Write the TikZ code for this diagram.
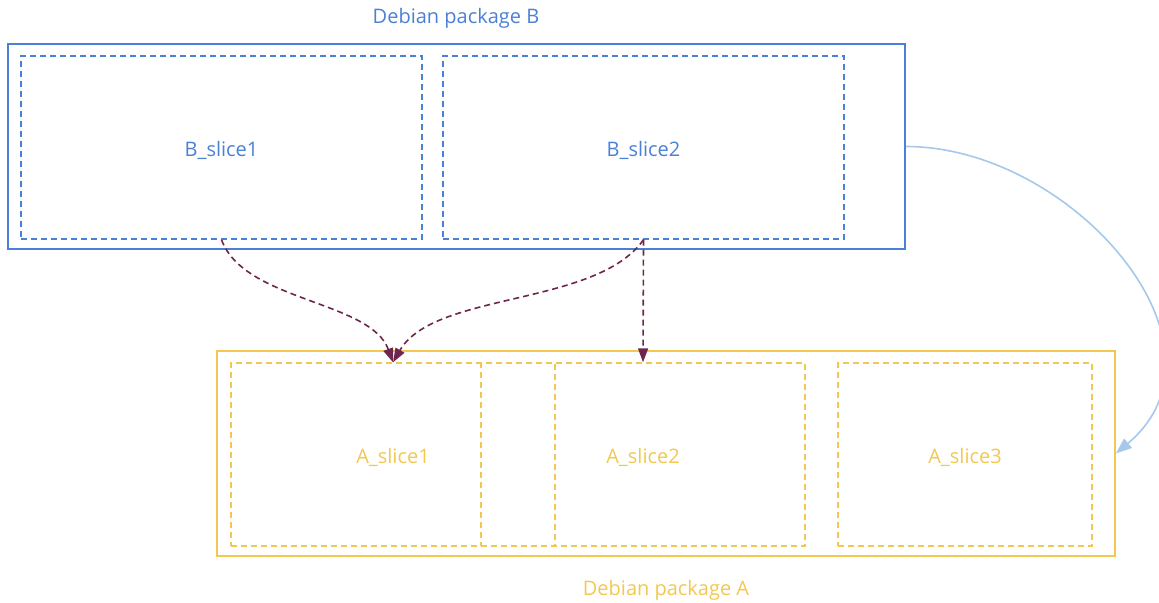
\documentclass[tikz,border=0pt]{standalone}
\usepackage{fontspec}
\setmainfont{Open Sans}
\usetikzlibrary{arrows.meta}

\definecolor{pkgblue}{RGB}{74,128,214}
\definecolor{pkgyellow}{RGB}{242,200,80}
\definecolor{deppurple}{RGB}{110,38,78}
\definecolor{lightblue}{RGB}{165,200,235}

\begin{document}
\begin{tikzpicture}[
    x=0.5pt, y=0.5pt,
    font=\fontsize{10}{12}\selectfont,
    % Style for the package boxes
    pkg/.style={
        draw, line width=0.8pt, inner sep=0pt,
        minimum height=102.5pt
    },
    % Style for the slices inside a package
    slice/.style={
        draw, dash pattern=on 3pt off 2pt, line width=0.7pt,
        inner sep=0pt, minimum height=91.5pt
    },
    % Style for the dependency arrows
    dep/.style={
        deppurple, line width=0.8pt, dash pattern=on 3pt off 2pt,
        -{Triangle[length=7pt, width=5pt]}
    }
]

% --- Fix the page size ---
\useasboundingbox (0,0) rectangle (1159,602);

% --- Package B ---
\node[pkg, pkgblue, minimum width=448.5pt] (pkgB) at (456.5,455.5) {};
\node[text=pkgblue] (titleB) at (456,584) {Debian package B};
\node[slice, pkgblue, minimum width=200.5pt,
      label={[text=pkgblue, yshift=-1.5pt]center:B\_slice1}] (bslice1) at (221.5,454.5) {};
\node[slice, pkgblue, minimum width=200.5pt,
      label={[text=pkgblue, yshift=-1.5pt]center:B\_slice2}] (bslice2) at (643.5,454.5) {};

% --- Package A ---
\node[pkg, pkgyellow, minimum width=449pt] (pkgA) at (666,148.5) {};
\node[text=pkgyellow] (titleA) at (666,12) {Debian package A};
\node[slice, pkgyellow, minimum width=162pt,
      label={[text=pkgyellow, yshift=-1.5pt]center:A\_slice1}] (aslice1) at (393,147.5) {};
\node[slice, pkgyellow, minimum width=162pt,
      label={[text=pkgyellow, yshift=-1.5pt]center:A\_slice2}] (aslice2) at (643,147.5) {};
\node[slice, pkgyellow, minimum width=127pt,
      label={[text=pkgyellow, yshift=-1.5pt]center:A\_slice3}] (aslice3) at (965,147.5) {};

% --- Dependencies between slices ---
\draw[dep] (bslice1.south) to[out=-70, in=110, looseness=0.8] (aslice1.north);
\draw[dep] (bslice2.south) to[out=-125, in=60, looseness=0.75] (aslice1.north);
\draw[dep] (bslice2.south) -- (aslice2.north);

% --- Package dependency ---
\draw[lightblue, line width=0.8pt, -{Triangle[length=8pt, width=6pt]}]
    (pkgB.east) to[out=0, in=40, looseness=1.15] (pkgA.east);

\end{tikzpicture}
\end{document}
